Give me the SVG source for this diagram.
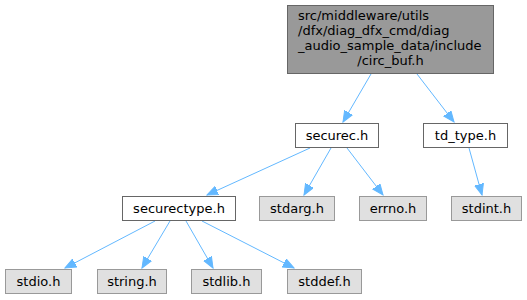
<svg xmlns="http://www.w3.org/2000/svg" width="527" height="300" viewBox="0 0 527 300">
<style>
text{font-family:"DejaVu Sans",sans-serif;font-size:13px;fill:#000}
.n rect{fill:#fff;stroke:#666;stroke-width:1}
.g rect{fill:#e0e0e0;stroke:#999;stroke-width:1}
.t rect{fill:#999;stroke:#666;stroke-width:1}
.e line{stroke:#63b8ff;stroke-width:1;marker-end:url(#a)}
</style>
<defs>
<marker id="a" markerUnits="userSpaceOnUse" markerWidth="12" markerHeight="10" refX="11" refY="5" orient="auto">
<path d="M0,0.5 L11,5 L0,9.5 Z" fill="#63b8ff" stroke="#63b8ff"/>
</marker>
</defs>
<g id="edges" class="e">
<line x1="371" y1="74" x2="343" y2="122"/>
<line x1="417" y1="74" x2="454" y2="122"/>
<line x1="310" y1="148" x2="207" y2="195"/>
<line x1="331" y1="148" x2="304" y2="195"/>
<line x1="347" y1="148" x2="383" y2="195"/>
<line x1="469" y1="148" x2="482" y2="195"/>
<line x1="155" y1="221" x2="65" y2="268"/>
<line x1="170" y1="221" x2="142" y2="268"/>
<line x1="186" y1="221" x2="213" y2="268"/>
<line x1="202" y1="221" x2="294" y2="268"/>
</g>
<g id="circ_buf" class="t">
<rect x="287.5" y="5.5" width="206" height="68"/>
<text x="298" y="20">src/middleware/utils</text>
<text x="298" y="35">/dfx/diag_dfx_cmd/diag</text>
<text x="298" y="50">_audio_sample_data/include</text>
<text x="390.5" y="65" text-anchor="middle">/circ_buf.h</text>
</g>
<g id="securec" class="n">
<rect x="295.5" y="123.5" width="83" height="24"/>
<text x="337" y="139.5" text-anchor="middle">securec.h</text>
</g>
<g id="td_type" class="n">
<rect x="423.5" y="123.5" width="84" height="24"/>
<text x="465.5" y="139.5" text-anchor="middle">td_type.h</text>
</g>
<g id="securectype" class="n">
<rect x="122.5" y="196.5" width="113" height="24"/>
<text x="179" y="212.5" text-anchor="middle">securectype.h</text>
</g>
<g id="stdarg" class="g">
<rect x="259.5" y="196.5" width="75" height="24"/>
<text x="297" y="212.5" text-anchor="middle">stdarg.h</text>
</g>
<g id="errno" class="g">
<rect x="359.5" y="196.5" width="67" height="24"/>
<text x="393" y="212.5" text-anchor="middle">errno.h</text>
</g>
<g id="stdint" class="g">
<rect x="451.5" y="196.5" width="70" height="24"/>
<text x="486.5" y="212.5" text-anchor="middle">stdint.h</text>
</g>
<g id="stdio" class="g">
<rect x="5.5" y="269.5" width="66" height="24"/>
<text x="38.5" y="285.5" text-anchor="middle">stdio.h</text>
</g>
<g id="string" class="g">
<rect x="97.5" y="269.5" width="69" height="24"/>
<text x="132" y="285.5" text-anchor="middle">string.h</text>
</g>
<g id="stdlib" class="g">
<rect x="191.5" y="269.5" width="70" height="24"/>
<text x="226.5" y="285.5" text-anchor="middle">stdlib.h</text>
</g>
<g id="stddef" class="g">
<rect x="287.5" y="269.5" width="74" height="24"/>
<text x="324.5" y="285.5" text-anchor="middle">stddef.h</text>
</g>
</svg>
